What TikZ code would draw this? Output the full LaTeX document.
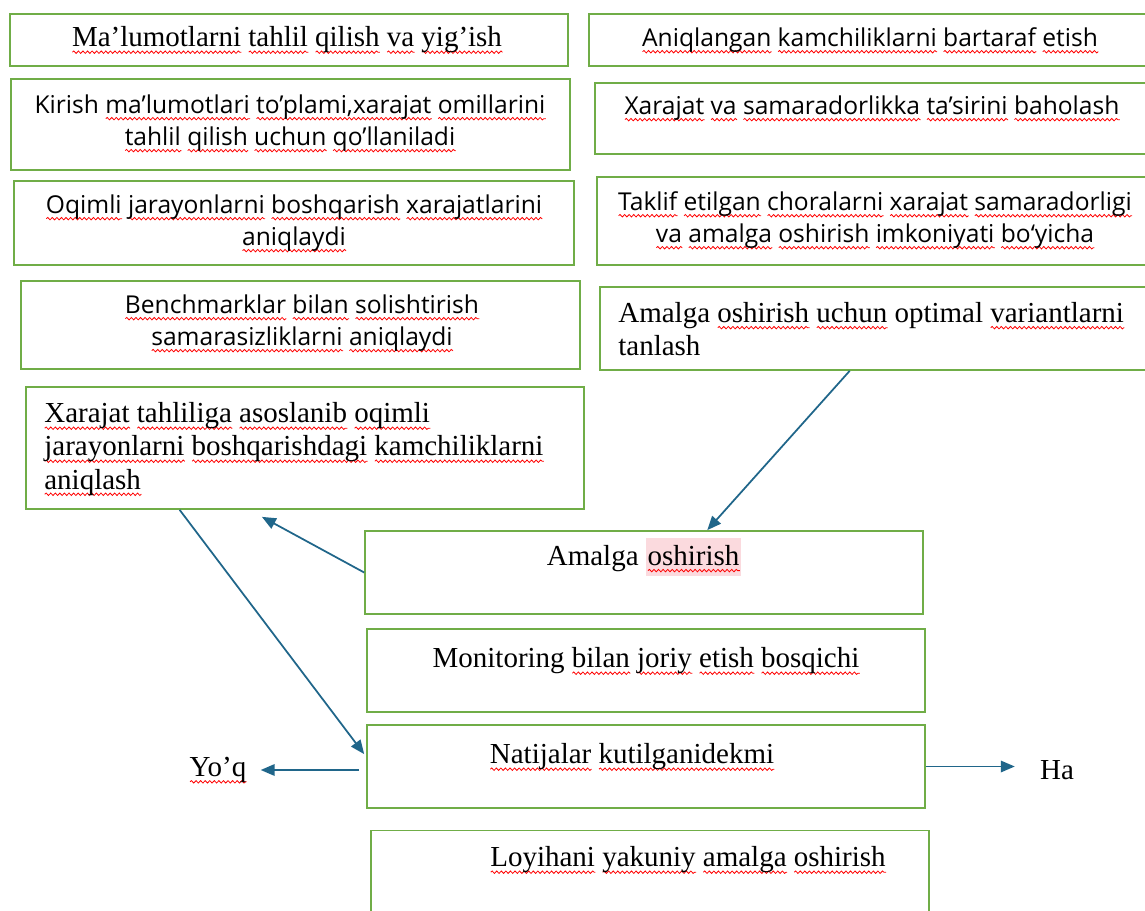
\documentclass[tikz,border=0pt]{standalone}
\usepackage{fontspec}
\setmainfont{Liberation Serif}
\setsansfont{Open Sans}
\usepackage{xcolor}
\usetikzlibrary{arrows.meta,calc,decorations.pathmorphing}
\definecolor{boxgreen}{RGB}{112,173,71}
\definecolor{flowblue}{RGB}{32,102,138}
\definecolor{markpink}{RGB}{251,218,222}
% red wavy spell-check line under a word
\newsavebox{\wvbox}
\newlength{\wvlen}
\newcommand{\wv}[1]{\sbox{\wvbox}{#1}\setlength{\wvlen}{\wd\wvbox}%
  \rlap{\smash{\tikz[baseline=0pt,x=1pt,y=1pt]\draw[red, line width=0.45pt, decorate,
    decoration={snake, amplitude=0.7pt, segment length=2.6pt}] (0pt,-3pt) -- (\wvlen,-3pt);}}%
  \usebox{\wvbox}}
\newcommand{\pinkmark}[1]{{\setlength{\fboxsep}{1pt}\colorbox{markpink}{\rule[-5pt]{0pt}{19.5pt}#1}}}

\begin{document}
\begin{tikzpicture}[x=0.02cm, y=-0.02cm,
    box/.style={draw=boxgreen, line width=1pt, minimum width=11.16cm},
    serif/.style={font=\fontsize{16.5}{18.8}\selectfont, inner sep=0pt},
    sans/.style={font=\sffamily\fontsize{14}{18.2}\selectfont, inner sep=0pt, align=center},
    arrow/.style={-{Triangle[length=2.8mm,width=2.3mm]}, draw=flowblue, line width=1pt}
]
    \clip (0,0) rectangle (1145,911);

    % left column
    \node[box, minimum height=1.04cm] (collect) at (289,40) {};
    \node[serif] (collect-t) at (287,40) {\wv{Ma’lumotlarni} \wv{tahlil} \wv{qilish} \wv{va} \wv{yig’ish}};
    \node[box, minimum width=11.18cm, minimum height=1.82cm] (inputs) at (290.5,124.5) {};
    \node[sans] (inputs-t) at (290,123) {Kirish \wv{ma’lumotlari} \wv{to’plami,xarajat} \wv{omillarini}\\
        \wv{tahlil} \wv{qilish} \wv{uchun} \wv{qo’llaniladi}};
    \node[box, minimum width=11.2cm, minimum height=1.68cm] (costs) at (294,223) {};
    \node[sans] (costs-t) at (294,223) {\wv{Oqimli} \wv{jarayonlarni} \wv{boshqarish} \wv{xarajatlarini}\\
        \wv{aniqlaydi}};
    \node[box, minimum width=11.18cm, minimum height=1.76cm] (bench) at (300.5,325) {};
    \node[sans] (bench-t) at (302,323) {\wv{Benchmarklar} \wv{bilan} \wv{solishtirish}\\
        \wv{samarasizliklarni} \wv{aniqlaydi}};
    \node[box, minimum height=2.44cm] (gaps) at (305,448) {};
    \node[serif, anchor=west, align=left] (gaps-t) at (44,449) {\wv{Xarajat} \wv{tahliliga} \wv{asoslanib} \wv{oqimli}\\
        \wv{jarayonlarni} \wv{boshqarishdagi} \wv{kamchiliklarni}\\
        \wv{aniqlash}};

    % right column
    \node[box, minimum width=11.32cm, minimum height=1.04cm] (fix) at (872,40) {};
    \node[sans] (fix-t) at (870,40) {\wv{Aniqlangan} \wv{kamchiliklarni} \wv{bartaraf} \wv{etish}};
    \node[box, minimum width=11.2cm, minimum height=1.42cm] (impact) at (875,118.5) {};
    \node[sans] (impact-t) at (872,108) {\wv{Xarajat} \wv{va} \wv{samaradorlikka} \wv{ta’sirini} \wv{baholash}};
    \node[box, minimum width=11.16cm, minimum height=1.76cm] (rank) at (876,221) {};
    \node[sans] (rank-t) at (875,220) {\wv{Taklif} \wv{etilgan} \wv{choralarni} \wv{xarajat} \wv{samaradorligi}\\
        \wv{va} \wv{amalga} \wv{oshirish} \wv{imkoniyati} \wv{bo‘yicha}};
    \node[box, minimum width=11.1cm, minimum height=1.66cm] (choose) at (877.5,328.5) {};
    \node[serif, anchor=west, align=left] (choose-t) at (618,329) {Amalga \wv{oshirish} \wv{uchun} optimal \wv{variantlarni}\\
        tanlash};

    % middle column
    \node[box, minimum height=1.66cm] (impl) at (644,572.5) {};
    \node[serif] (impl-t) at (644,557) {Amalga \pinkmark{\wv{oshirish}}};
    \node[box, minimum height=1.66cm] (monitor) at (646,670.5) {};
    \node[serif] (monitor-t) at (646,661) {Monitoring \wv{bilan} \wv{joriy} \wv{etish} \wv{bosqichi}};
    \node[box, minimum height=1.66cm] (check) at (646,766.5) {};
    \node[serif] (check-t) at (632,757) {\wv{Natijalar} \wv{kutilganidekmi}};
    \node[box, minimum height=1.98cm] (final) at (650,880) {};
    \node[serif] (final-t) at (688,860) {\wv{Loyihani} \wv{yakuniy} \wv{amalga} \wv{oshirish}};

    \node[serif] (no) at (218,770) {\wv{Yo’q}};
    \node[serif] (yes) at (1057,770) {Ha};

    \draw[arrow] ($(choose.south west)!0.45!(choose.south east)$) -- ($(impl.north west)!0.613!(impl.north east)$);
    \draw[arrow] (impl.west) -- ($(gaps.south west)!0.423!(gaps.south east)+(0,7)$);
    \draw[arrow] ($(gaps.south west)!0.276!(gaps.south east)$) -- ($(check.north west)+(-2,30)$);
    \draw[arrow, shorten <=0.14cm, shorten >=0.28cm] (check.west |- no.east) -- (no.east);
    \draw[arrow, shorten >=0.5cm] (check.east) -- (check.east -| yes.west);
\end{tikzpicture}
\end{document}
